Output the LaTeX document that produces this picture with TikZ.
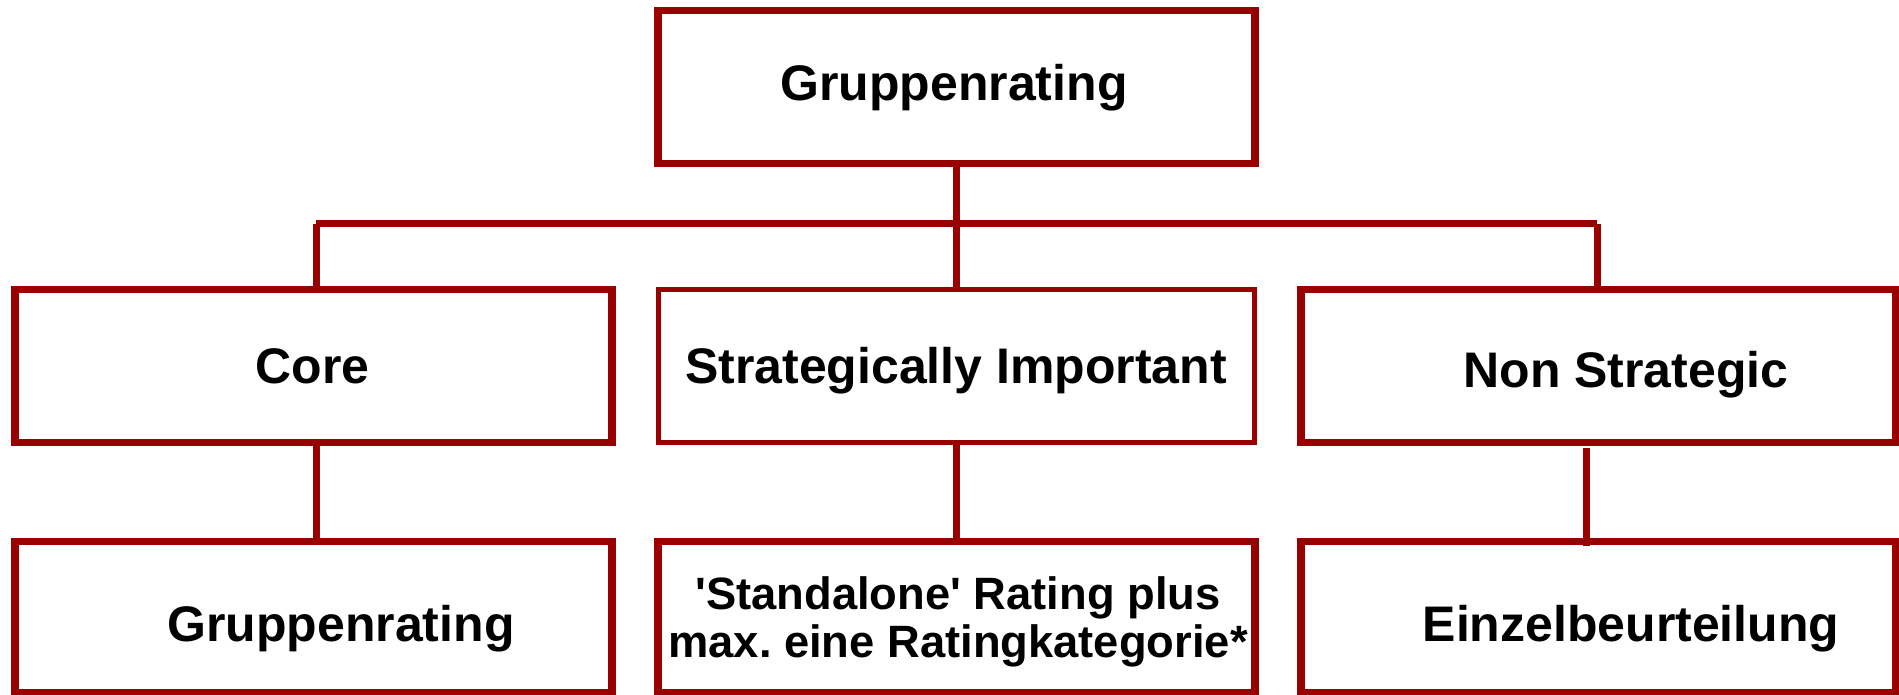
\documentclass[tikz,border=0pt]{standalone}
\usepackage{fontspec}
\setmainfont{Liberation Sans}
\definecolor{boxred}{RGB}{153,0,0}

\begin{document}
\begin{tikzpicture}
	[
		x=0.02cm, y=-0.02cm,
		box/.style = {rectangle, draw=boxred, fill=none, line width=0.15cm, inner sep=0pt, outer sep=0pt, minimum width=11.94cm, minimum height=3.06cm},
		thinbox/.style = {box, line width=0.1cm},
		lowbox/.style = {box, minimum height=3.02cm},
		link/.style = {draw=boxred, line width=0.14cm},
		txt/.style = {anchor=base, inner sep=0pt, font=\bfseries\fontsize{28.45}{34}\selectfont},
		smalltxt/.style = {anchor=center, inner sep=0pt, align=center, font=\bfseries\fontsize{25.8}{27.3}\selectfont},
	]

	\useasboundingbox (0,0) rectangle (1899,695);

	% boxes
	\node[box] (top) 	at (  956.5,  87.0 ) {};
	\node[box] (core) 	at (  313.5, 366.1 ) {};
	\node[thinbox] (strat) 	at (  956.5, 366.1 ) {};
	\node[box, minimum width=11.89cm] (non) 	at ( 1598.3, 366.2 ) {};
	\node[lowbox] (coreb) 	at (  313.5, 617.0 ) {};
	\node[lowbox] (stratb) 	at (  956.5, 617.0 ) {};
	\node[lowbox, minimum width=11.89cm] (nonb) 	at ( 1598.3, 617.0 ) {};

	% texts
	\node[txt] (ttop) 	at (  954.0, 101.0 ) {Gruppenrating};
	\node[txt] (tcore) 	at (  312.5, 384.0 ) {Core};
	\node[txt] (tstrat) 	at (  956.0, 384.0 ) {Strategically Important};
	\node[txt] (tnon) 	at ( 1626.0, 388.0 ) {Non Strategic};
	\node[txt] (tcoreb) 	at (  341.0, 641.0 ) {Gruppenrating};
	\node[smalltxt] (tstratb) 	at (  958.0, 621.5 ) {\textquotesingle Standalone\textquotesingle{} Rating plus\\max.\ eine Ratingkategorie*};
	\node[txt] (tnonb) 	at ( 1631.0, 641.0 ) {Einzelbeurteilung};

	% connectors
	\coordinate (l) at (  316, 224 );
	\coordinate (r) at ( 1597, 224 );
	\coordinate (m) at ( 1586,   0 );

	\draw[link] (l) -- (r);
	\draw[link] (top.south) -- (strat.north);
	\draw[link] (l) -- (l |- core.north);
	\draw[link] (r) -- (r |- non.north);
	\draw[link] (l |- core.south) -- (l |- coreb.north);
	\draw[link] (strat.south) -- (stratb.north);
	\draw[link, shorten <=0.11cm, shorten >=-0.09cm] (m |- non.south) -- (m |- nonb.north);

	\end{tikzpicture}
\end{document}
